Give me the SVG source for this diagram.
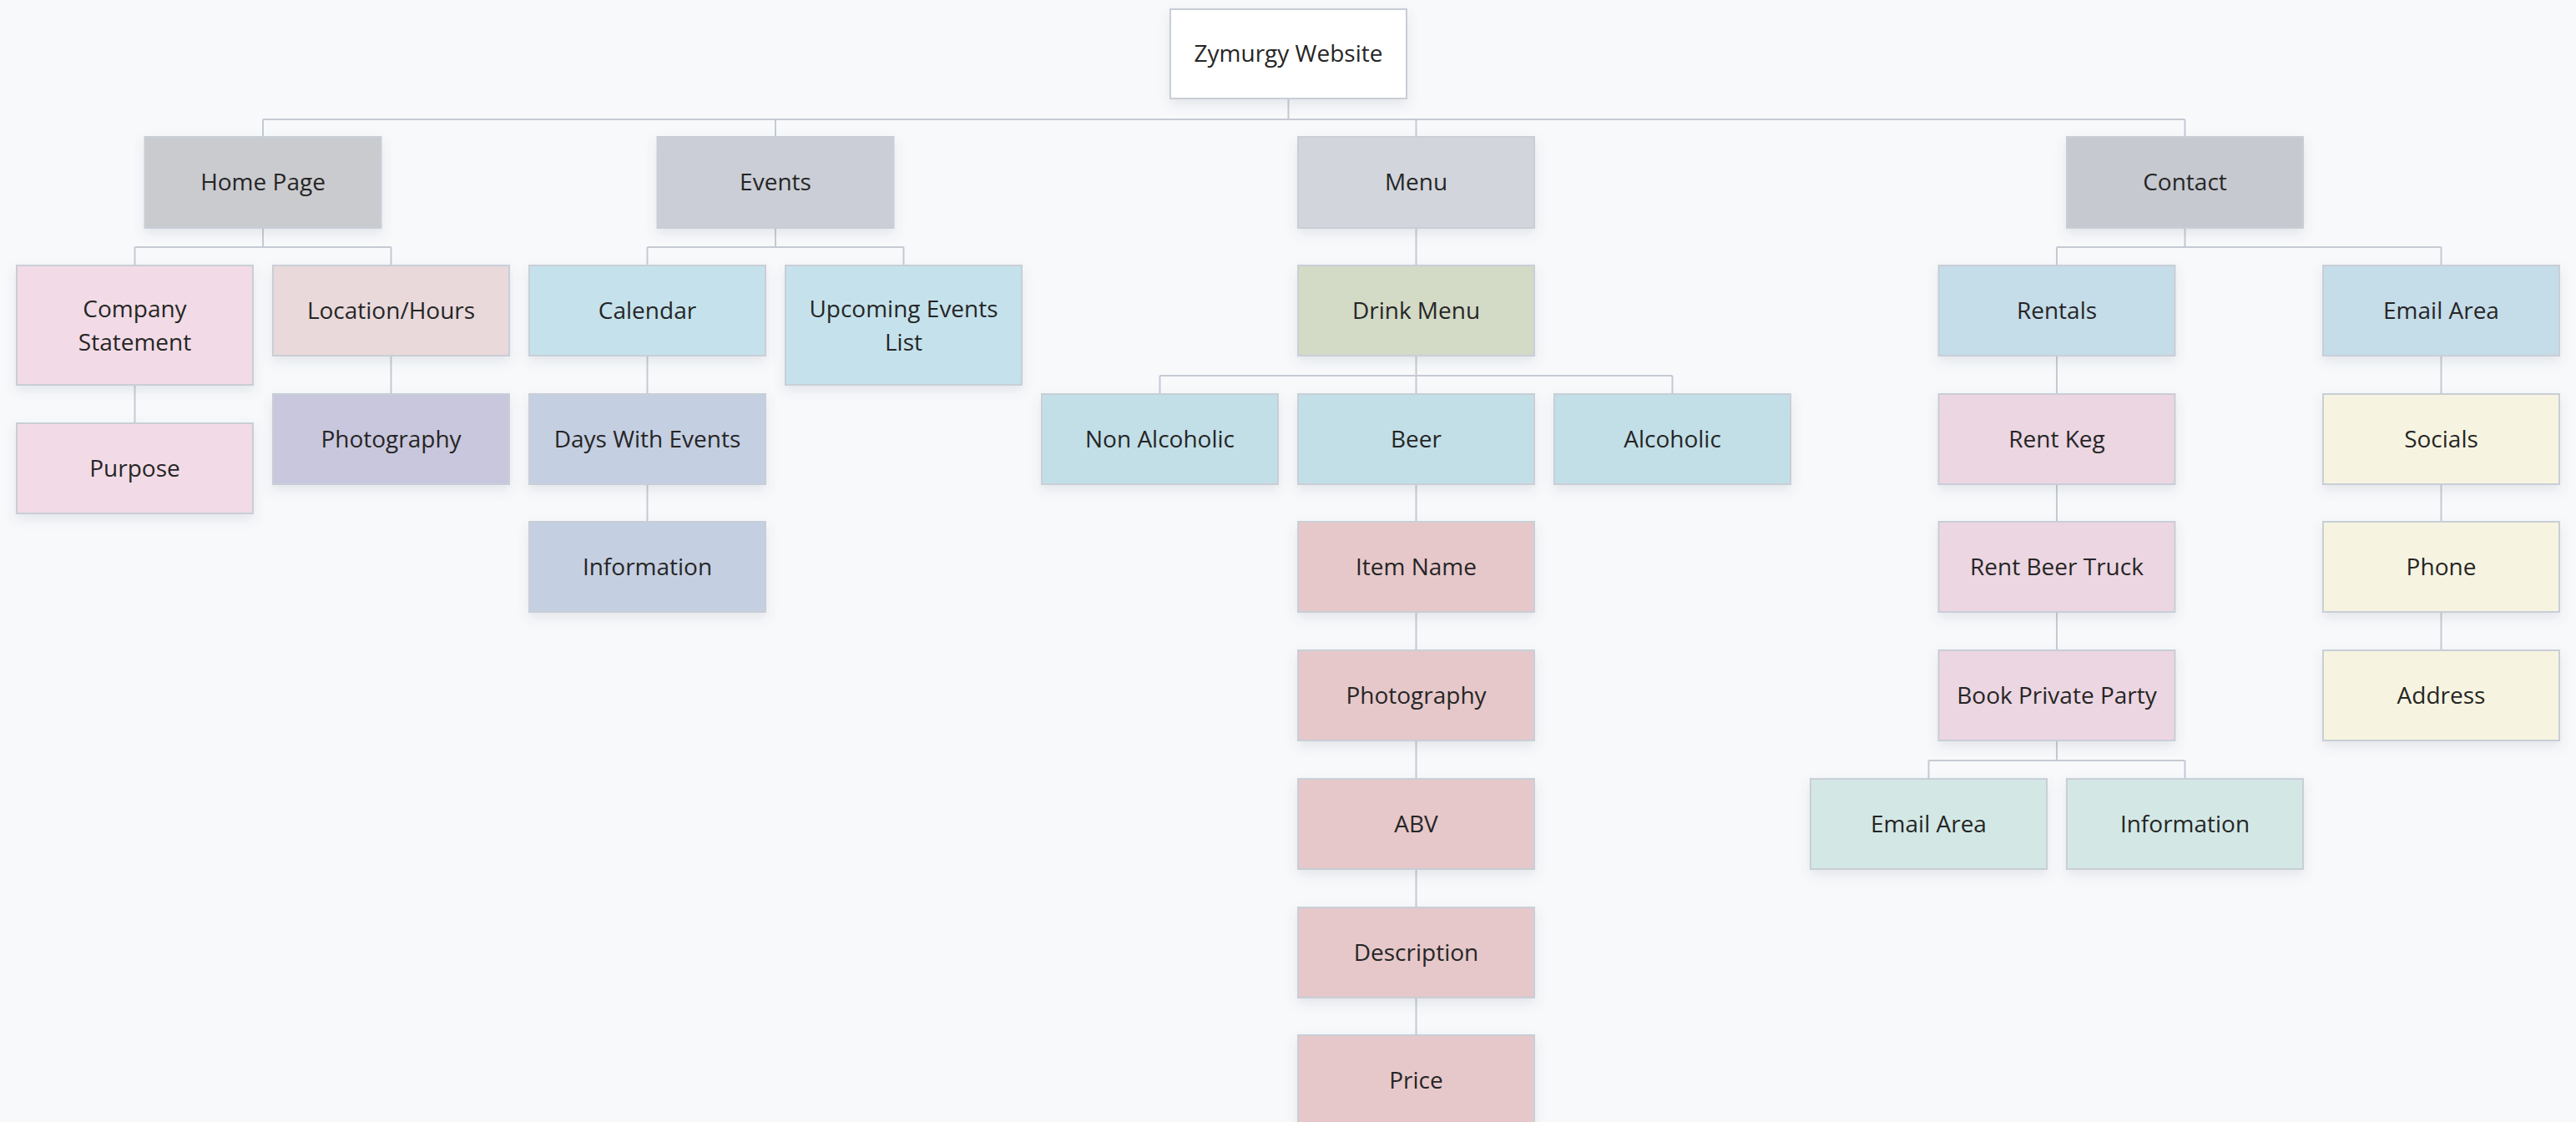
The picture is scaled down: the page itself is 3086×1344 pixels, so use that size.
<svg xmlns="http://www.w3.org/2000/svg" width="3086" height="1344" viewBox="0 0 3086 1344">
<defs>
<filter id="sh" x="-10%" y="-10%" width="120%" height="140%">
<feDropShadow dx="0" dy="6" stdDeviation="7" flood-color="#5a6478" flood-opacity="0.13"/>
</filter>
<style>
.n rect{stroke:#c9ced6;stroke-width:2;filter:url(#sh)}
.n text{font-family:"Open Sans","Noto Sans","Liberation Sans",sans-serif;font-size:28px;fill:#262626;text-anchor:middle;transform:translateY(-2px)}
.c path{fill:none;stroke:#c5cad3;stroke-width:2}
</style>
</defs>
<rect width="3086" height="1344" fill="#f8f9fb"/>
<g class="c" id="connectors">
<path d="M1543.5 118V143M315 143H2617.5M315 143V164M929 143V164M1696.5 143V164M2617.5 143V164"/>
<path d="M315 273V296M161.5 296H468.5M161.5 296V318M468.5 296V318"/>
<path d="M161.5 461V507M468.5 426V472"/>
<path d="M929 273V296M775.5 296H1082.5M775.5 296V318M1082.5 296V318"/>
<path d="M775.5 426V472M775.5 580V625"/>
<path d="M1696.5 273V318M1696.5 426V450M1389.5 450H2003.5M1389.5 450V472M1696.5 450V472M2003.5 450V472"/>
<path d="M1696.5 580V625M1696.5 733V779M1696.5 887V933M1696.5 1041V1087M1696.5 1195V1240"/>
<path d="M2617.5 273V296M2464 296H2924.5M2464 296V318M2924.5 296V318"/>
<path d="M2464 426V472M2464 580V625M2464 733V779M2464 887V911M2310.5 911H2617.5M2310.5 911V933M2617.5 911V933"/>
<path d="M2924.5 426V472M2924.5 580V625M2924.5 733V779"/>
</g>
<g class="n" id="n-root"><rect x="1402" y="11" width="283" height="107" fill="#ffffff"/><text x="1543.5" y="76">Zymurgy Website</text></g>
<g class="n" id="n-home"><rect x="173.5" y="164" width="283" height="109" fill="#cacbcf"/><text x="315" y="230">Home Page</text></g>
<g class="n" id="n-events"><rect x="787.5" y="164" width="283" height="109" fill="#cbced6"/><text x="929" y="230">Events</text></g>
<g class="n" id="n-menu"><rect x="1555" y="164" width="283" height="109" fill="#d2d5dc"/><text x="1696.5" y="230">Menu</text></g>
<g class="n" id="n-contact"><rect x="2476" y="164" width="283" height="109" fill="#c6c9d0"/><text x="2617.5" y="230">Contact</text></g>
<g class="n" id="n-company"><rect x="20" y="318" width="283" height="143" fill="#f2dbe6"/><text x="161.5" y="381.5">Company</text><text x="161.5" y="421.5">Statement</text></g>
<g class="n" id="n-purpose"><rect x="20" y="507" width="283" height="108" fill="#f2dbe6"/><text x="161.5" y="572.5">Purpose</text></g>
<g class="n" id="n-location"><rect x="327" y="318" width="283" height="108" fill="#e9d9db"/><text x="468.5" y="383.5">Location/Hours</text></g>
<g class="n" id="n-photo1"><rect x="327" y="472" width="283" height="108" fill="#c9c7dd"/><text x="468.5" y="537.5">Photography</text></g>
<g class="n" id="n-calendar"><rect x="634" y="318" width="283" height="108" fill="#c5e2ec"/><text x="775.5" y="383.5">Calendar</text></g>
<g class="n" id="n-upcoming"><rect x="941" y="318" width="283" height="143" fill="#c5e2ec"/><text x="1082.5" y="381.5">Upcoming Events</text><text x="1082.5" y="421.5">List</text></g>
<g class="n" id="n-days"><rect x="634" y="472" width="283" height="108" fill="#c5cfe2"/><text x="775.5" y="537.5">Days With Events</text></g>
<g class="n" id="n-info1"><rect x="634" y="625" width="283" height="108" fill="#c5cfe2"/><text x="775.5" y="690.5">Information</text></g>
<g class="n" id="n-drink"><rect x="1555" y="318" width="283" height="108" fill="#d3dac6"/><text x="1696.5" y="383.5">Drink Menu</text></g>
<g class="n" id="n-nonalc"><rect x="1248" y="472" width="283" height="108" fill="#c2dfe8"/><text x="1389.5" y="537.5">Non Alcoholic</text></g>
<g class="n" id="n-beer"><rect x="1555" y="472" width="283" height="108" fill="#c2dfe8"/><text x="1696.5" y="537.5">Beer</text></g>
<g class="n" id="n-alc"><rect x="1862" y="472" width="283" height="108" fill="#c2dfe8"/><text x="2003.5" y="537.5">Alcoholic</text></g>
<g class="n" id="n-itemname"><rect x="1555" y="625" width="283" height="108" fill="#e6c8ca"/><text x="1696.5" y="690.5">Item Name</text></g>
<g class="n" id="n-photo2"><rect x="1555" y="779" width="283" height="108" fill="#e6c8ca"/><text x="1696.5" y="844.5">Photography</text></g>
<g class="n" id="n-abv"><rect x="1555" y="933" width="283" height="108" fill="#e6c8ca"/><text x="1696.5" y="998.5">ABV</text></g>
<g class="n" id="n-desc"><rect x="1555" y="1087" width="283" height="108" fill="#e6c8ca"/><text x="1696.5" y="1152.5">Description</text></g>
<g class="n" id="n-price"><rect x="1555" y="1240" width="283" height="108" fill="#e6c8ca"/><text x="1696.5" y="1305.5">Price</text></g>
<g class="n" id="n-rentals"><rect x="2322.5" y="318" width="283" height="108" fill="#c5dce9"/><text x="2464" y="383.5">Rentals</text></g>
<g class="n" id="n-rentkeg"><rect x="2322.5" y="472" width="283" height="108" fill="#ecd6e2"/><text x="2464" y="537.5">Rent Keg</text></g>
<g class="n" id="n-truck"><rect x="2322.5" y="625" width="283" height="108" fill="#ecd6e2"/><text x="2464" y="690.5">Rent Beer Truck</text></g>
<g class="n" id="n-party"><rect x="2322.5" y="779" width="283" height="108" fill="#ecd6e2"/><text x="2464" y="844.5">Book Private Party</text></g>
<g class="n" id="n-email2"><rect x="2169" y="933" width="283" height="108" fill="#d3e8e5"/><text x="2310.5" y="998.5">Email Area</text></g>
<g class="n" id="n-info2"><rect x="2476" y="933" width="283" height="108" fill="#d3e8e5"/><text x="2617.5" y="998.5">Information</text></g>
<g class="n" id="n-email1"><rect x="2783" y="318" width="283" height="108" fill="#c5dce9"/><text x="2924.5" y="383.5">Email Area</text></g>
<g class="n" id="n-socials"><rect x="2783" y="472" width="283" height="108" fill="#f6f4e0"/><text x="2924.5" y="537.5">Socials</text></g>
<g class="n" id="n-phone"><rect x="2783" y="625" width="283" height="108" fill="#f6f4e0"/><text x="2924.5" y="690.5">Phone</text></g>
<g class="n" id="n-address"><rect x="2783" y="779" width="283" height="108" fill="#f6f4e0"/><text x="2924.5" y="844.5">Address</text></g>
</svg>
